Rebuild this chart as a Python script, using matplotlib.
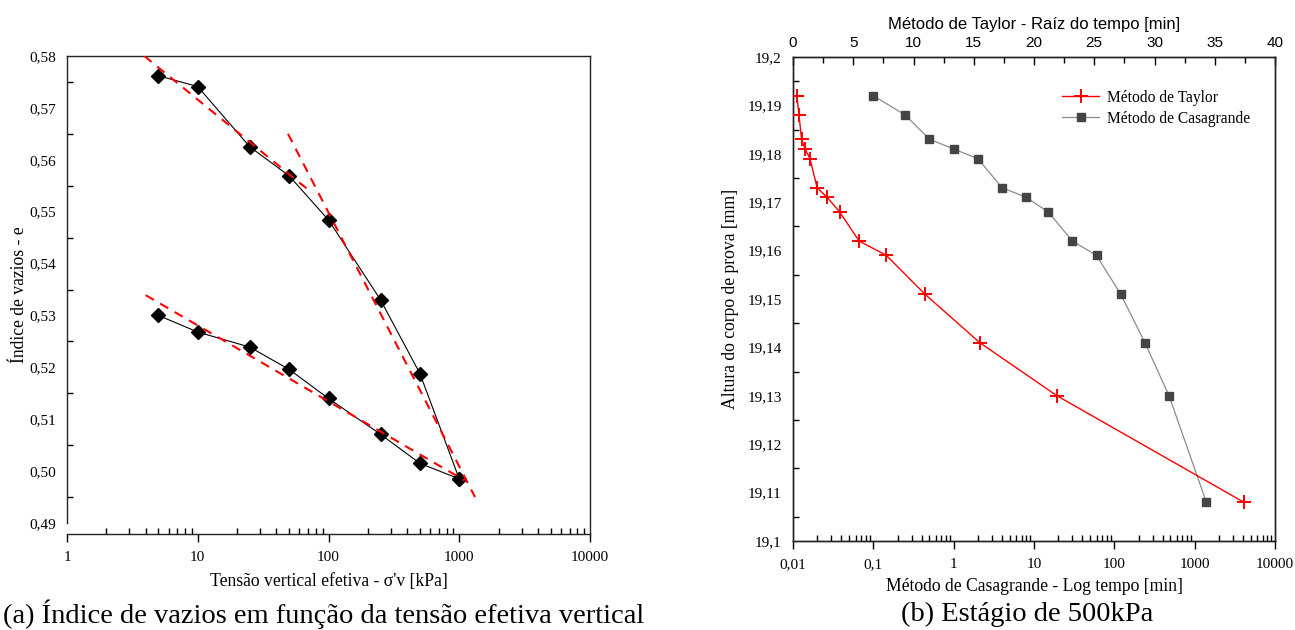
import numpy as np
import matplotlib
matplotlib.use("Agg")
import matplotlib.pyplot as plt
from matplotlib.ticker import FixedLocator, FuncFormatter, MultipleLocator, LogLocator, NullFormatter

# ---------------- data ----------------
# (a) void ratio vs effective vertical stress
stress_kpa = [5, 10, 25, 50, 100, 250, 500, 1000]
e_loading = [0.5762, 0.5741, 0.5625, 0.5569, 0.5484, 0.5330, 0.5188, 0.4985]
e_unloading = [0.5300, 0.5268, 0.5239, 0.5196, 0.5140, 0.5071, 0.5015, 0.4985]

# red dashed tangent lines (end points)
tan1_x = [3.9, 75]
tan1_y = [0.5800, 0.5536]
tan2_x = [49, 1320]
tan2_y = [0.5650, 0.4950]
tan3_x = [4.0, 1100]
tan3_y = [0.5339, 0.4982]

# (b) 500 kPa stage
time_min = [0.1, 0.25, 0.5, 1, 2, 4, 8, 15, 30, 60, 120, 240, 480, 1400]
sqrt_time = [0.32, 0.50, 0.71, 1.00, 1.41, 2.00, 2.83, 3.87, 5.48, 7.75, 10.95, 15.49, 21.91, 37.42]
height_mm = [19.192, 19.188, 19.183, 19.181, 19.179, 19.173, 19.171, 19.168,
             19.162, 19.159, 19.151, 19.141, 19.130, 19.108]

left_xticks = [1, 10, 100, 1000, 10000]
left_yticks = [0.49, 0.50, 0.51, 0.52, 0.53, 0.54, 0.55, 0.56, 0.57, 0.58]
right_xticks = [0.01, 0.1, 1, 10, 100, 1000, 10000]
right_xticklabels = ["0,01", "0,1", "1", "10", "100", "1000", "10000"]
top_xticks = [0, 5, 10, 15, 20, 25, 30, 35, 40]
right_yticks = [19.10, 19.11, 19.12, 19.13, 19.14, 19.15, 19.16, 19.17, 19.18, 19.19, 19.20]

SERIF = ["Liberation Serif", "DejaVu Serif"]
SANS = ["Liberation Sans", "DejaVu Sans"]
plt.rcParams['font.family'] = SERIF

W, H = 1295, 630
fig = plt.figure(figsize=(W / 100, H / 100), dpi=100)

def box(l, t, r, b):
    return [l / W, 1 - b / H, (r - l) / W, (b - t) / H]

TS = 11      # tick label size
LS = 12.7    # axis label size
CS = 20.5    # caption size

def style_bottom(ax):
    ax.tick_params(axis="x", which="major", direction="out", length=6, width=1,
                   labelsize=TS, pad=6.5)
    ax.tick_params(axis="x", which="minor", direction="in", length=4, width=1)
    ax.tick_params(axis="y", which="major", length=0, labelsize=TS, pad=8)
    ax.tick_params(axis="y", which="minor", direction="in", length=4, width=1)

# ---------------- (a) ----------------
ax1 = fig.add_axes(box(67, 56, 590, 534))
ax1.plot(stress_kpa, e_loading, color="black", lw=0.8, marker="D", ms=7.5,
         mfc="black", mec="black", zorder=3)
ax1.plot(stress_kpa, e_unloading, color="black", lw=0.8, marker="D", ms=7.5,
         mfc="black", mec="black", zorder=3)
for tx, ty in ((tan1_x, tan1_y), (tan2_x, tan2_y), (tan3_x, tan3_y)):
    ax1.plot(tx, ty, color="red", lw=1.5, ls=(0, (4.5, 3.5)), zorder=4)

ax1.set_xscale("log")
ax1.set_xlim(1, 10000)
ax1.set_ylim(0.49 - 11 / 51.9 * 0.01, 0.58)
ax1.spines["left"].set_bounds(0.49, 0.58)
for s in ax1.spines.values():
    s.set_linewidth(1.0)
    s.set_color("#222222")
ax1.xaxis.set_major_locator(FixedLocator(left_xticks))
ax1.xaxis.set_major_formatter(FuncFormatter(lambda v, p: f"{v:g}"))
ax1.xaxis.set_minor_locator(LogLocator(base=10, subs=np.arange(2, 10)))
ax1.xaxis.set_minor_formatter(NullFormatter())
ax1.yaxis.set_major_locator(FixedLocator(left_yticks))
ax1.yaxis.set_major_formatter(FuncFormatter(lambda v, p: f"{v:.2f}".replace(".", ",")))
ax1.yaxis.set_minor_locator(MultipleLocator(0.005))
style_bottom(ax1)
ax1.set_xlabel("Tensão vertical efetiva - σ'v [kPa]", fontsize=LS, labelpad=6)
ax1.set_ylabel("Índice de vazios - e", fontsize=LS, labelpad=1)

# ---------------- (b) ----------------
ax2 = fig.add_axes(box(793, 57, 1275, 541))
cas, = ax2.plot(time_min, height_mm, color="#8c8c8c", lw=0.9, marker="s", ms=5.8,
                mfc="#444444", mec="#444444", label="Método de Casagrande", zorder=3)
ax2.set_xscale("log")
ax2.set_xlim(0.01, 10000)
ax2.set_ylim(19.1, 19.2)
ax2.xaxis.set_major_locator(FixedLocator(right_xticks))
ax2.xaxis.set_major_formatter(FuncFormatter(lambda v, p: right_xticklabels[p] if p is not None and p < len(right_xticklabels) else f"{v:g}".replace(".", ",")))
ax2.xaxis.set_minor_locator(LogLocator(base=10, subs=np.arange(2, 10)))
ax2.xaxis.set_minor_formatter(NullFormatter())
ax2.yaxis.set_major_locator(FixedLocator(right_yticks))
ax2.yaxis.set_major_formatter(FuncFormatter(lambda v, p: f"{v:.2f}".rstrip("0").replace(".", ",")))
ax2.yaxis.set_minor_locator(MultipleLocator(0.005))
style_bottom(ax2)
ax2.set_xlabel("Método de Casagrande - Log tempo [min]", fontsize=LS, labelpad=5)
ax2.set_ylabel("Altura do corpo de prova [mm]", fontsize=LS, labelpad=6)

ax2t = ax2.twiny()
tay, = ax2t.plot(sqrt_time, height_mm, color="red", lw=1.0, marker="+", ms=10,
                 mew=1.4, label="Método de Taylor", zorder=3)
ax2t.set_xlim(0, 40)
ax2t.xaxis.set_major_locator(FixedLocator(top_xticks))
ax2t.xaxis.set_minor_locator(MultipleLocator(2.5))
ax2t.tick_params(which="major", direction="in", length=6, width=1, labelsize=TS, pad=5)
ax2t.tick_params(which="minor", direction="in", length=4, width=1)
for lab in ax2t.get_xticklabels():
    lab.set_family(SANS)
ax2t.set_xlabel("Método de Taylor - Raíz do tempo [min]", fontsize=12, family=SANS, labelpad=5)
for a in (ax2, ax2t):
    for s in a.spines.values():
        s.set_linewidth(1.0)
        s.set_color("#222222")

leg = ax2.legend(handles=[tay, cas], loc="upper left", bbox_to_anchor=(0.545, 0.945),
                 frameon=False, fontsize=11.2, handlelength=2.4, handletextpad=0.5,
                 labelspacing=0.3, borderaxespad=0)

# captions
fig.text(3 / W, 1 - 614 / H, "(a) Índice de vazios em função da tensão efetiva vertical",
         ha="left", va="center", fontsize=CS)
fig.text(1027 / W, 1 - 614 / H, "(b) Estágio de 500kPa", ha="center", va="center", fontsize=CS)

fig.savefig("out.png", dpi=100)
